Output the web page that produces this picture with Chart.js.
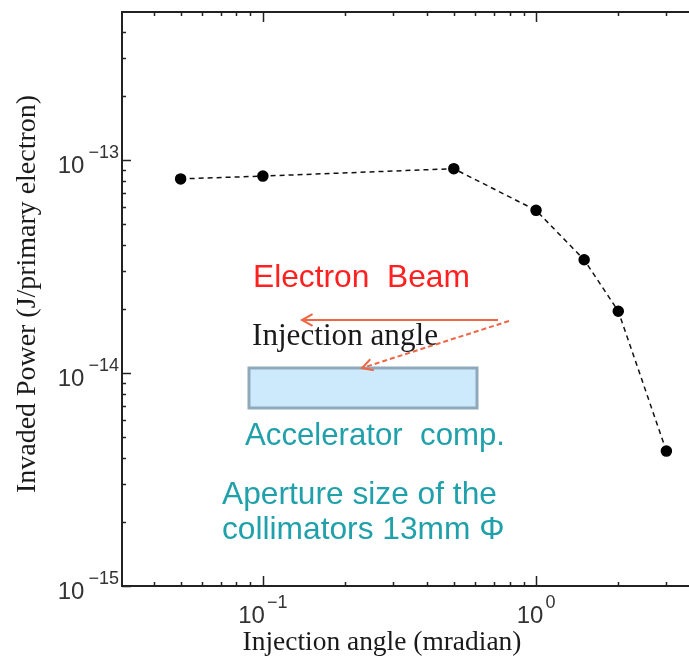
<!DOCTYPE html>
<html><head><meta charset="utf-8">
<script src="https://cdn.jsdelivr.net/npm/chart.js@4.4.1/dist/chart.umd.min.js"></script>
<style>html,body{margin:0;padding:0;background:#fff}canvas{display:block}</style>
</head><body>
<canvas id="c" width="689" height="660"></canvas>
<script>
// ---- data ----
const angles = [0.05, 0.1, 0.5, 1, 1.5, 2, 3];            // mradian
const power  = [8.15e-14, 8.4e-14, 9.1e-14, 5.8e-14, 3.4e-14, 1.95e-14, 4.3e-15]; // J/primary electron
const xDecadeExps = [-1, 0];
const yDecadeExps = [-15, -14, -13];
const xTitle = 'Injection angle (mradian)';
const yTitle = 'Invaded Power (J/primary electron)';
const beamLabel = 'Electron  Beam';
const angleLabel = 'Injection angle';
const compLabel = 'Accelerator  comp.';
const apertureLines = ['Aperture size of the', 'collimators 13mm \u03A6'];

const SANS = '"Liberation Sans", Arial, sans-serif';
const SERIF = '"Liberation Serif", "Times New Roman", serif';

function fitSize(ctx, text, width, family) {
  ctx.font = '100px ' + family;
  return 100 * width / ctx.measureText(text).width;
}
function fitText(ctx, text, x, y, width, family, color, align) {
  const size = fitSize(ctx, text, width, family);
  ctx.font = size.toFixed(2) + 'px ' + family;
  ctx.fillStyle = color;
  ctx.textAlign = align || 'left';
  ctx.textBaseline = 'alphabetic';
  ctx.fillText(text, x, y);
}

function arrow(ctx, x1, y1, x2, y2, dashed) {
  ctx.save();
  ctx.strokeStyle = '#ef6644';
  ctx.lineWidth = 2;
  ctx.setLineDash(dashed ? [5, 3] : []);
  ctx.beginPath(); ctx.moveTo(x1, y1); ctx.lineTo(x2, y2); ctx.stroke();
  ctx.setLineDash([]);
  const ang = Math.atan2(y1 - y2, x1 - x2);
  const L = 12, A = 0.5;
  ctx.beginPath();
  ctx.moveTo(x2 + L * Math.cos(ang + A), y2 + L * Math.sin(ang + A));
  ctx.lineTo(x2, y2);
  ctx.lineTo(x2 + L * Math.cos(ang - A), y2 + L * Math.sin(ang - A));
  ctx.stroke();
  ctx.restore();
}

const decor = {
  id: 'decor',
  afterDraw(chart) {
    const ctx = chart.ctx, xs = chart.scales.x, ys = chart.scales.y, a = chart.chartArea;
    ctx.save();
    ctx.strokeStyle = '#222';
    ctx.lineWidth = 2;
    ctx.beginPath(); ctx.moveTo(a.left - 1, a.top); ctx.lineTo(a.right, a.top); ctx.stroke();

    // inward ticks
    ctx.lineWidth = 1.5;
    ctx.beginPath();
    for (let e = -3; e <= 1; e++) for (let m = 1; m <= 9; m++) {
      const v = m * Math.pow(10, e);
      if (v < xs.min || v > xs.max) continue;
      const px = Math.round(xs.getPixelForValue(v)) + 0.5;
      const len = m === 1 ? 10 : 4;
      ctx.moveTo(px, a.bottom); ctx.lineTo(px, a.bottom - len);
      ctx.moveTo(px, a.top); ctx.lineTo(px, a.top + len);
    }
    for (let e = -16; e <= -12; e++) for (let m = 1; m <= 9; m++) {
      const v = m * Math.pow(10, e);
      if (v < ys.min * 0.999 || v > ys.max) continue;
      const py = Math.round(ys.getPixelForValue(v)) + 0.5;
      const len = m === 1 ? 9 : 4;
      ctx.moveTo(a.left, py); ctx.lineTo(a.left + len, py);
    }
    ctx.stroke();

    // tick labels with superscript exponents
    ctx.fillStyle = '#333';
    ctx.textBaseline = 'alphabetic';
    const bigF = '24px ' + SANS, supF = '18px ' + SANS;
    yDecadeExps.forEach(e => {
      const py = ys.getPixelForValue(Math.pow(10, e));
      const sup = '\u2212' + Math.abs(e);
      ctx.font = supF; ctx.textAlign = 'right';
      const sw = ctx.measureText(sup).width;
      ctx.fillText(sup, a.left - 3, py - 2);
      ctx.font = bigF;
      ctx.fillText('10', a.left - 3 - sw - 4, py + 13);
    });
    xDecadeExps.forEach(e => {
      const px = xs.getPixelForValue(Math.pow(10, e));
      const sup = e < 0 ? '\u2212' + Math.abs(e) : String(e);
      ctx.font = bigF; const bw = ctx.measureText('10').width;
      ctx.font = supF; const sw = ctx.measureText(sup).width;
      const x0 = px - (bw + 2 + sw) / 2;
      ctx.textAlign = 'left';
      ctx.font = bigF; ctx.fillText('10', x0, a.bottom + 37);
      ctx.font = supF; ctx.fillText(sup, x0 + bw + 2, a.bottom + 22);
    });

    // axis titles
    fitText(ctx, xTitle, 382, 650, 279, SERIF, '#1a1a1a', 'center');
    ctx.save();
    ctx.translate(35, 294);
    ctx.rotate(-Math.PI / 2);
    fitText(ctx, yTitle, 0, 0, 398, SERIF, '#1a1a1a', 'center');
    ctx.restore();

    // schematic annotation
    fitText(ctx, beamLabel, 253, 287, 217, SANS, '#ff2020', 'left');
    fitText(ctx, angleLabel, 252, 345, 186, SERIF, '#1a1a1a', 'left');
    ctx.fillStyle = '#cdeafd';
    ctx.fillRect(249, 368, 228, 40);
    ctx.strokeStyle = '#8fa9ba'; ctx.lineWidth = 3;
    ctx.strokeRect(249, 368, 228, 40);
    arrow(ctx, 498, 320, 302, 320, false);
    arrow(ctx, 509, 321, 362, 368, true);
    fitText(ctx, compLabel, 245, 445, 260, SANS, '#1fa0aa', 'left');
    const apSize = fitSize(ctx, apertureLines[0], 275, SANS);
    ctx.font = apSize.toFixed(2) + 'px ' + SANS;
    ctx.fillStyle = '#1fa0aa'; ctx.textAlign = 'left';
    ctx.fillText(apertureLines[0], 222, 504);
    ctx.fillText(apertureLines[1], 222, 539);
    ctx.restore();
  }
};

new Chart(document.getElementById('c'), {
  type: 'line',
  data: {
    datasets: [{
      data: angles.map((x, i) => ({ x: x, y: power[i] })),
      borderColor: '#111',
      borderWidth: 1.5,
      borderDash: [5, 4],
      pointRadius: 5,
      pointBackgroundColor: '#000',
      pointBorderColor: '#000',
      pointBorderWidth: 1.5,
      tension: 0,
      fill: false
    }]
  },
  options: {
    responsive: false,
    animation: false,
    events: [],
    layout: { padding: { left: 122, top: 12, right: 0, bottom: 74 }, autoPadding: false },
    plugins: { legend: { display: false }, tooltip: { enabled: false } },
    scales: {
      x: {
        type: 'logarithmic', min: 0.0305, max: 3.63,
        grid: { display: false, drawTicks: false },
        border: { display: true, color: '#222', width: 2 },
        ticks: { display: false }
      },
      y: {
        type: 'logarithmic', min: 1e-15, max: 4.95e-13,
        grid: { display: false, drawTicks: false },
        border: { display: true, color: '#222', width: 2 },
        ticks: { display: false }
      }
    }
  },
  plugins: [decor]
});
</script>
</body></html>
